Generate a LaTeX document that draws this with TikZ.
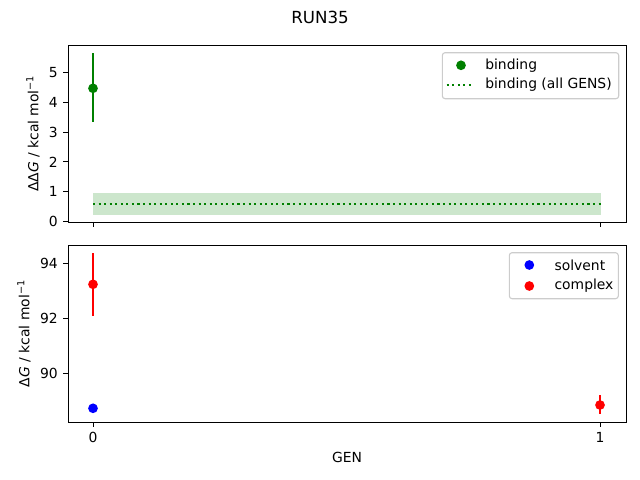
\documentclass[tikz,border=0pt]{standalone}
\usepackage{fontspec}
\setmainfont{DejaVu Sans}
\definecolor{mplgreen}{HTML}{008000}
\definecolor{mplred}{HTML}{FF0000}
\definecolor{mplblue}{HTML}{0000FF}
\definecolor{legendedge}{HTML}{CCCCCC}
\tikzset{
  spine/.style={line width=0.7bp},
  tickline/.style={line width=0.7bp},
  ticklabel/.style={inner sep=0pt},
  errbar/.style={line width=1.5bp},
  marker/.style={circle, inner sep=0pt, minimum size=7bp},
  legendbox/.style={draw=legendedge, line width=0.8bp, rounded corners=2bp, fill=white},
  legendtext/.style={anchor=west, inner sep=0pt},
}
\newcommand{\kcal}{kcal mol\textsuperscript{−1}}
\begin{document}
\begin{tikzpicture}[x=0.72bp, y=-0.72bp, font=\fontsize{10bp}{12bp}\selectfont]
  \useasboundingbox (0,0) rectangle (640,480);

  % title
  \node (title) at (320,17) {\fontsize{12bp}{14bp}\selectfont RUN35};

  % top axes: binding
  \fill[mplgreen, opacity=0.2] (93,193.3) rectangle (601,214.6);
  \draw[mplgreen, line width=1.5bp, dash pattern=on 1.5bp off 2.5bp] (93,203.7) -- (601,203.7);
  \draw[mplgreen, errbar] (93,53.3) -- (93,121.7);
  \node[marker, fill=mplgreen] (bind0) at (93,88.3) {};
  \draw[spine] (68,45) rectangle (626,222);
  \foreach \v in {0,...,5}
    \draw[tickline] (68,221.3-29.7*\v) -- ++(-4.9,0)
      node[ticklabel, anchor=east, xshift=-3.5bp] (ty\v) {\v};
  \foreach \x in {93,600}
    \draw[tickline] (\x,222) -- ++(0,4.9);
  \node[rotate=90] (ylabtop) at (33,133.5) {ΔΔ\textit{G} / \kcal};

  % top legend
  \draw[legendbox] (442.3,52.7) rectangle (618.7,98.7);
  \node[marker, fill=mplgreen] (legbind) at (461,65.3) {};
  \node[legendtext] (txtbind) at (485,65.3) {binding};
  \draw[mplgreen, line width=1.5bp, dash pattern=on 1.5bp off 2.5bp] (446.7,85) -- (470.7,85);
  \node[legendtext] (txtall) at (485,85) {binding (all GENS)};

  % bottom axes: solvent / complex
  \draw[mplred, errbar] (93,253.3) -- (93,315.7);
  \draw[mplred, errbar] (600,395) -- (600,413.7);
  \node[marker, fill=mplred] (cplx0) at (93,284.3) {};
  \node[marker, fill=mplblue] (solv0) at (93,408.3) {};
  \node[marker, fill=mplred] (cplx1) at (600,405) {};
  \draw[spine] (68,245) rectangle (626,422);
  \foreach \v/\py in {90/373.3,92/318.3,94/263.3}
    \draw[tickline] (68,\py) -- ++(-4.9,0)
      node[ticklabel, anchor=east, xshift=-3.5bp] (by\v) {\v};
  \foreach \x/\g in {93/0,600/1}
    \draw[tickline] (\x,422) -- ++(0,4.9)
      node[ticklabel, anchor=north, yshift=-3.5bp] (bx\g) {\g};
  \node[rotate=90] (ylabbot) at (24,333.5) {Δ\textit{G} / \kcal};
  \node (xlab) at (347,457) {GEN};

  % bottom legend
  \draw[legendbox] (509.3,252.7) rectangle (618.3,298.7);
  \node[marker, fill=mplblue] (legsolv) at (529.3,265) {};
  \node[legendtext] (txtsolv) at (554.3,265) {solvent};
  \node[marker, fill=mplred] (legcplx) at (529.3,286) {};
  \node[legendtext] (txtcplx) at (554.3,286) {complex};
\end{tikzpicture}
\end{document}
